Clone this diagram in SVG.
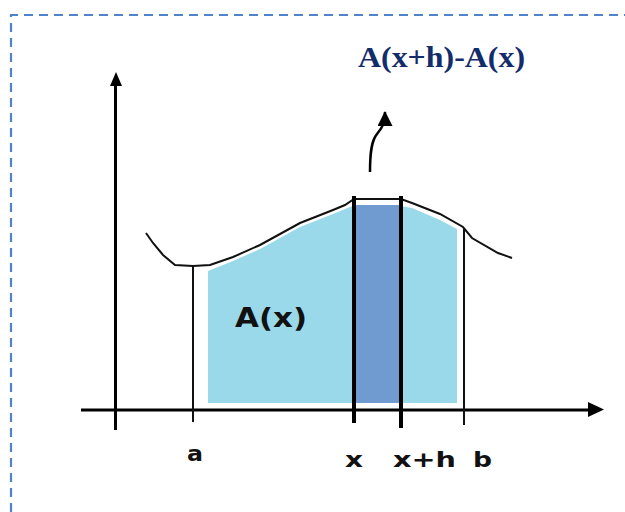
<svg xmlns="http://www.w3.org/2000/svg" width="625" height="512" viewBox="0 0 625 512">
<style>
.ax{stroke:#000;stroke-width:3;fill:none}
.thin{stroke:#111;stroke-width:2;fill:none}
.thick{stroke:#000;stroke-width:4;fill:none}
.lbl{font-family:"DejaVu Sans","Liberation Sans",sans-serif;font-weight:bold;fill:#111}
.ttl{font-family:"Liberation Serif","Times New Roman",serif;font-weight:bold;fill:#132c6b}
</style>
<defs>
<marker id="ah2" viewBox="0 0 15 15" refX="14" refY="7.5" markerWidth="15" markerHeight="15" markerUnits="userSpaceOnUse" orient="auto">
<path d="M0,0 L15,7.5 L0,15 Z" fill="#000"/>
</marker>
</defs>
<rect width="625" height="512" fill="#fff"/>
<path d="M11,512 V15 H625" fill="none" stroke="#4f83cc" stroke-width="2.2" stroke-dasharray="9,6"/>
<g id="area">
<polygon points="208,271 233,261 260,249 300,227 333,214 350,207 354,206 354,403 208,403" fill="#9ad9e9"/>
<polygon points="401,206 412,208 440,220 457,229 457,403 401,403" fill="#9ad9e9"/>
<rect x="354" y="205" width="47" height="198" fill="#6f9bd1"/>
</g>
<g id="curve">
<polyline class="thin" points="146,233 153,243 163,255 175,265 193,266 210,265 233,257 260,245 300,223 333,210 345,205 354,199 401,199 412,203 440,214 463,227 472,238 498,253 512,258"/>
</g>
<g id="axes">
<line class="ax" x1="115.5" y1="430" x2="115.5" y2="86"/>
<path d="M110,86 L116,72 L122,86 Z" fill="#000"/>
<line class="ax" x1="81" y1="410" x2="589" y2="410"/>
<path d="M588,402 L604,409.5 L588,417 Z" fill="#000"/>
</g>
<g id="verticals">
<line class="thin" x1="193" y1="266" x2="193" y2="422"/>
<line class="thin" x1="464" y1="229" x2="464" y2="425"/>
<line class="thick" x1="354" y1="196" x2="354" y2="423"/>
<line class="thick" x1="401" y1="196" x2="401" y2="428"/>
</g>
<g id="connectors">
<path d="M370,172 C370,150 372,140 377,134 C383,127 385,122 385,112" fill="none" stroke="#000" stroke-width="2.5" marker-end="url(#ah2)"/>
</g>
<g id="labels">
<text class="ttl" x="358" y="67" font-size="30" textLength="167" lengthAdjust="spacingAndGlyphs">A(x+h)-A(x)</text>
<text class="lbl" x="235" y="327" font-size="26" textLength="72" lengthAdjust="spacingAndGlyphs">A(x)</text>
<text class="lbl" x="187" y="461" font-size="22" textLength="16" lengthAdjust="spacingAndGlyphs">a</text>
<text class="lbl" x="345" y="467" font-size="22" textLength="18" lengthAdjust="spacingAndGlyphs">x</text>
<text class="lbl" x="393" y="467" font-size="22" textLength="63" lengthAdjust="spacingAndGlyphs">x+h</text>
<text class="lbl" x="473" y="467" font-size="22" textLength="19" lengthAdjust="spacingAndGlyphs">b</text>
</g>
</svg>
